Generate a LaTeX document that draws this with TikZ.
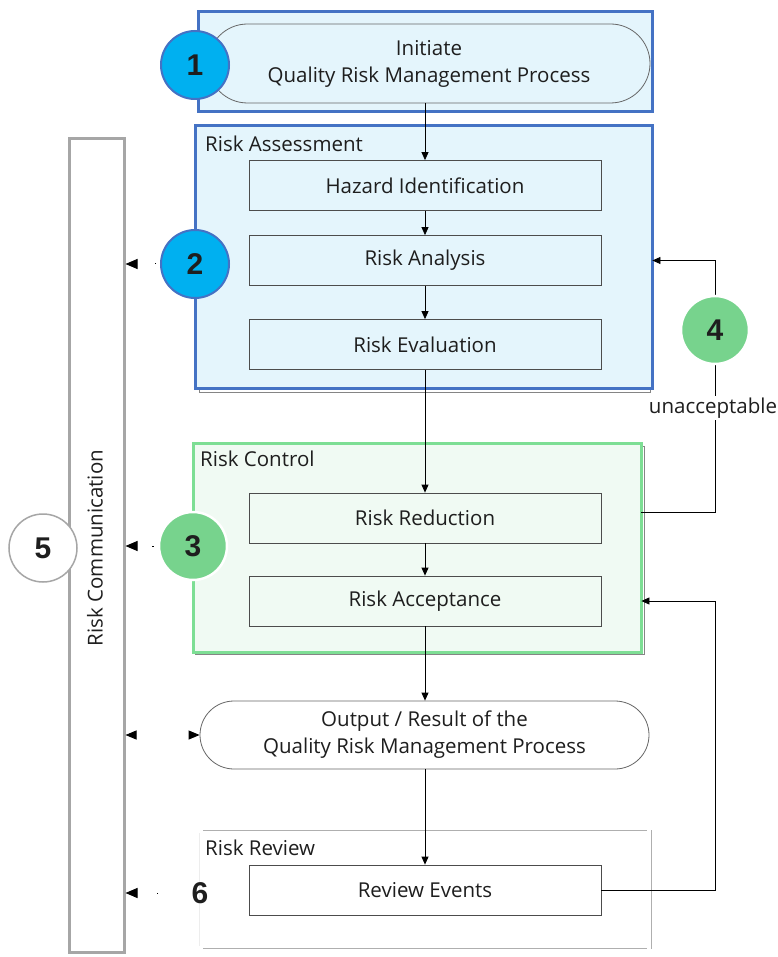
\documentclass[tikz,border=0pt]{standalone}
\usepackage{fontspec}
\setmainfont{Open Sans}
\newfontfamily\numfont{Liberation Sans}
\usetikzlibrary{shapes.misc}
\usetikzlibrary{arrows.meta}
\definecolor{qblue}{HTML}{4472C4}
\definecolor{qcyan}{HTML}{00B0F0}
\definecolor{qpale}{HTML}{E4F5FC}
\definecolor{qgreen}{HTML}{7DDE94}
\definecolor{qmint}{HTML}{F0FAF3}
\definecolor{qgray}{HTML}{A6A6A6}
\definecolor{qtext}{HTML}{1E1E1E}
\tikzset{
  every node/.style={text=qtext},
  stepbox/.style={draw=black!70, line width=0.8pt, minimum width=352pt, minimum height=50pt, inner sep=0pt, font=\fontsize{20.5}{24}\selectfont},
  pill/.style={draw=black!60, line width=0.8pt, rounded rectangle, inner sep=0pt, align=center, font=\fontsize{20.5}{27}\selectfont},
  frame/.style={minimum width=#1, inner sep=0pt, anchor=north west},
  frametitle/.style={anchor=base west, inner sep=0pt, font=\fontsize{20.5}{24}\selectfont},
  numcirc/.style={circle, minimum size=68pt, inner sep=0pt, font=\numfont\bfseries\fontsize{30}{30}\selectfont},
  flow/.style={-{Triangle[length=8pt,width=7pt]}, line width=0.8pt},
  talk/.style={-{Triangle[length=12pt,width=10pt]}, line width=1pt, dash pattern=on 1.5pt off 80pt}
}
\begin{document}
\begin{tikzpicture}[x=1pt,y=-1pt]
  \useasboundingbox[fill=white] (0,0) rectangle (777,957);
  % frames
  \draw[qblue, line width=3pt, fill=qpale] (198,12) rectangle (652,112);
  \draw[qgray!80!black, line width=0.8pt] (199,130) rectangle (650,392);
  \draw[qblue, line width=3pt, fill=qpale] (195,126) rectangle (652,388);
  \node[frame=457pt, minimum height=262pt] (ra) at (195,126) {};
  \draw[qgray!80!black, line width=0.8pt] (195,446) rectangle (644,654);
  \draw[qgreen, line width=3pt, fill=qmint] (193,443) rectangle (641,652);
  \node[frame=448pt, minimum height=209pt] (rc) at (193,443) {};
  \draw[qgray!90, line width=0.8pt] (203,830) -- (647,830) (203,948) -- (647,948) (651,830) -- (651,949);
  \draw[qgray!20, line width=0.8pt] (199,833) -- (199,946);
  \node[frametitle] at (205,152) {Risk Assessment};
  \node[frametitle] at (200,466) {Risk Control};
  \node[frametitle] at (205,855) {Risk Review};
  % risk communication
  \node[draw=qgray, line width=3pt, minimum width=55pt, minimum height=813pt, inner sep=0pt] (rcom) at (96.5,545.5) {};
  \node[rotate=90, font=\fontsize{20.5}{24}\selectfont] at (95,548) {Risk Communication};
  % steps
  \node[pill, fill=qpale, minimum width=442pt, minimum height=79pt] (init) at (429,63.5) {Initiate\\Quality Risk Management Process};
  \node[stepbox] (haz) at (425,185.5) {Hazard Identification};
  \node[stepbox] (ana) at (425,260.5) {Risk Analysis};
  \node[stepbox] (eva) at (425,344.5) {Risk Evaluation};
  \node[stepbox] (red) at (425,518) {Risk Reduction};
  \node[stepbox] (acc) at (425,601) {Risk Acceptance};
  \node[pill, fill=white, minimum width=449pt, minimum height=68pt] (out) at (424.5,735) {Output / Result of the\\Quality Risk Management Process};
  \node[stepbox, fill=white] (rev) at (425,890) {Review Events};
  % flow
  \draw[flow] (init.south -| haz) -- (haz);
  \draw[flow] (haz) -- (ana);
  \draw[flow] (ana) -- (eva);
  \draw[flow] (eva) -- (red);
  \draw[flow] (red) -- (acc);
  \draw[flow] (acc) -- (out.north -| acc);
  \draw[flow] (out.south -| rev) -- (rev);
  \draw[flow] (rc.east |- 0,512) -| (715,330) |- (ra.east |- ana);
  \draw[flow] (rev) -| (715,740) |- (rc.east |- acc);
  % numbers
  \node[numcirc, fill=qcyan, draw=qblue, line width=2pt] (c1) at (195,65) {1};
  \node[numcirc, fill=qcyan, draw=qblue, line width=2pt] (c2) at (195,264) {2};
  \node[numcirc, fill=qgreen!95!black, draw=white, line width=2.5pt] (c3) at (193,546) {3};
  \node[numcirc, fill=qgreen!95!black, draw=white, line width=2.5pt] (c4) at (715,330) {4};
  \node[numcirc, fill=white, draw=qgray, line width=1.5pt] (c5) at (43,548) {5};
  \node[font=\numfont\bfseries\fontsize{30}{30}\selectfont] (c6) at (200,893) {6};
  \node[fill=white, inner sep=2pt, font=\fontsize{20.5}{24}\selectfont] (unacc) at (713,408) {unacceptable};
  % communication
  \draw[talk] ([xshift=-4pt]c2.west) -- (rcom.east |- c2);
  \draw[talk] ([xshift=-4pt]c3.west) -- (rcom.east |- c3);
  \draw[talk] ([xshift=-30pt]c6.west) -- (rcom.east |- c6);
  \draw[{Triangle[length=11pt,width=9pt]}-{Triangle[length=11pt,width=9pt]}, line width=1pt, dash pattern=on 0pt off 300pt] (rcom.east |- out) -- (out.west);
\end{tikzpicture}
\end{document}
